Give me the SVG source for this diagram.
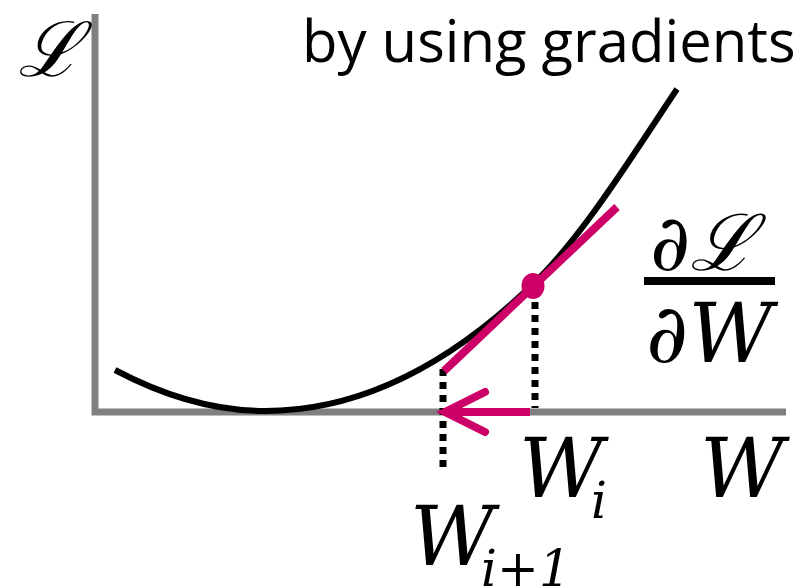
<svg xmlns="http://www.w3.org/2000/svg" width="807" height="588" viewBox="0 0 807 588">
<style>
.axis{stroke:#808080;stroke-width:7;fill:none}
.curve{stroke:#000;stroke-width:6;fill:none}
.pink{stroke:#CC0066;stroke-width:8;fill:none}
.dots{stroke:#000;stroke-width:7;stroke-dasharray:7 6;fill:none}
.math{font-family:"DejaVu Serif",serif;font-style:italic;fill:#000}
.label{font-family:"Open Sans","Liberation Sans",sans-serif;fill:#000}
</style>
<rect width="807" height="588" fill="#fff"/>
<g id="axes">
<polyline class="axis" points="95,14 95,412 786,412"/>
</g>
<g id="loss-curve">
<path class="curve" d="M115,370 C165,396.5 215,411 265,411 C355,411 445,368.7 532,285 C580,240 629,161 677,89"/>
</g>
<g id="connectors">
<line class="dots" x1="535" y1="302" x2="535" y2="408"/>
<line class="dots" x1="443" y1="369" x2="443" y2="472"/>
<line class="pink" x1="444" y1="371" x2="617" y2="207"/>
<line class="pink" x1="530" y1="412" x2="446" y2="412"/>
<polyline class="pink" points="485,392 445,412 485,432" stroke-linecap="round" stroke-linejoin="miter"/>
</g>
<g id="point">
<ellipse cx="533" cy="286" rx="11.5" ry="13" fill="#CC0066"/>
</g>
<g id="title">
<text class="label" x="302" y="62" font-size="58">by using gradients</text>
</g>
<g id="y-label">
<text class="math" x="18" y="76" font-size="76">ℒ</text>
</g>
<g id="x-label">
<text class="math" x="700" y="497" font-size="82">W</text>
</g>
<g id="wi-label">
<text class="math" x="519" y="497" font-size="82">W</text>
<text class="math" x="591" y="518" font-size="50">i</text>
</g>
<g id="wi1-label">
<text class="math" x="410" y="565" font-size="82">W</text>
<text class="math" x="481" y="586" font-size="50">i+1</text>
</g>
<g id="gradient">
<text class="math" x="650" y="270" font-size="78">∂ℒ</text>
<line x1="644" y1="281" x2="775" y2="281" stroke="#000" stroke-width="8"/>
<text class="math" x="646" y="362" font-size="82">∂W</text>
</g>
</svg>
